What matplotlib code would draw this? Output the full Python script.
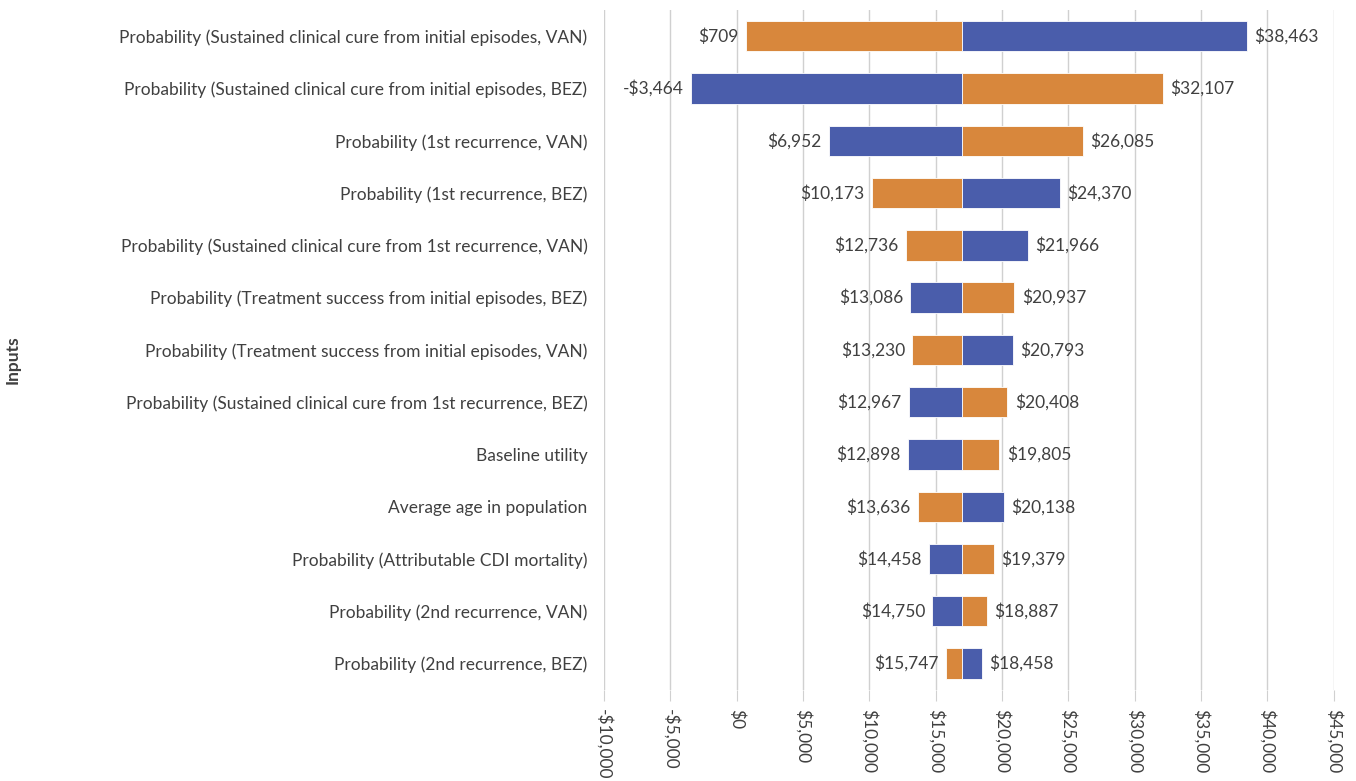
import matplotlib.pyplot as plt
from matplotlib.ticker import FuncFormatter

plt.rcParams['font.family'] = ['Lato', 'DejaVu Sans']

# inputs, top to bottom
inputs = [
    'Probability (Sustained clinical cure from initial episodes, VAN)',
    'Probability (Sustained clinical cure from initial episodes, BEZ)',
    'Probability (1st recurrence, VAN)',
    'Probability (1st recurrence, BEZ)',
    'Probability (Sustained clinical cure from 1st recurrence, VAN)',
    'Probability (Treatment success from initial episodes, BEZ)',
    'Probability (Treatment success from initial episodes, VAN)',
    'Probability (Sustained clinical cure from 1st recurrence, BEZ)',
    'Baseline utility',
    'Average age in population',
    'Probability (Attributable CDI mortality)',
    'Probability (2nd recurrence, VAN)',
    'Probability (2nd recurrence, BEZ)',
]
# ICER values for each series (orange and blue)
orange_vals = [709, 32107, 26085, 10173, 12736, 20937, 13230, 20408, 19805, 13636, 19379, 18887, 15747]
blue_vals = [38463, -3464, 6952, 24370, 21966, 13086, 20793, 12967, 12898, 20138, 14458, 14750, 18458]
base_icer = 16950

c_orange = '#D8873C'
c_blue = '#4A5DAB'
txt = '#404040'

fig = plt.figure(figsize=(13.56, 7.81), dpi=100)
ax = fig.add_axes([0.4455, 0.117, 0.538, 0.87])

ypos = list(range(len(inputs)))
h = 0.58
ax.barh(ypos, [v - base_icer for v in orange_vals], left=base_icer, height=h,
        color=c_orange, edgecolor='white', linewidth=0.6, zorder=3)
ax.barh(ypos, [v - base_icer for v in blue_vals], left=base_icer, height=h,
        color=c_blue, edgecolor='white', linewidth=0.6, zorder=3)

def money(v):
    return ('-$' if v < 0 else '$') + f'{abs(v):,.0f}'

for y, o, b in zip(ypos, orange_vals, blue_vals):
    lo, hi = min(o, b), max(o, b)
    ax.text(lo - 550, y, money(lo), ha='right', va='center', fontsize=12.5, color=txt)
    ax.text(hi + 550, y, money(hi), ha='left', va='center', fontsize=12.5, color=txt)

ax.set_yticks(ypos)
ax.set_yticklabels(inputs, fontsize=12.5, color=txt)
ax.set_ylim(len(inputs) - 0.5, -0.5)
ax.tick_params(axis='y', length=0, pad=12)

ax.set_xlim(-10000, 45000)
ax.set_xticks(range(-10000, 45001, 5000))
ax.xaxis.set_major_formatter(FuncFormatter(lambda v, p: money(v)))
ax.tick_params(axis='x', labelrotation=270, labelsize=12.5, labelcolor=txt,
               length=8, color='#D0D0D0', pad=6)
ax.grid(axis='x', color='#D0D0D0', linewidth=1, zorder=0)
for s in ax.spines.values():
    s.set_visible(False)

ax.set_ylabel('Inputs', fontsize=12.5, fontweight='bold', color=txt)
ax.yaxis.set_label_coords(-0.80, 0.485)

fig.savefig('out.png', dpi=100)
